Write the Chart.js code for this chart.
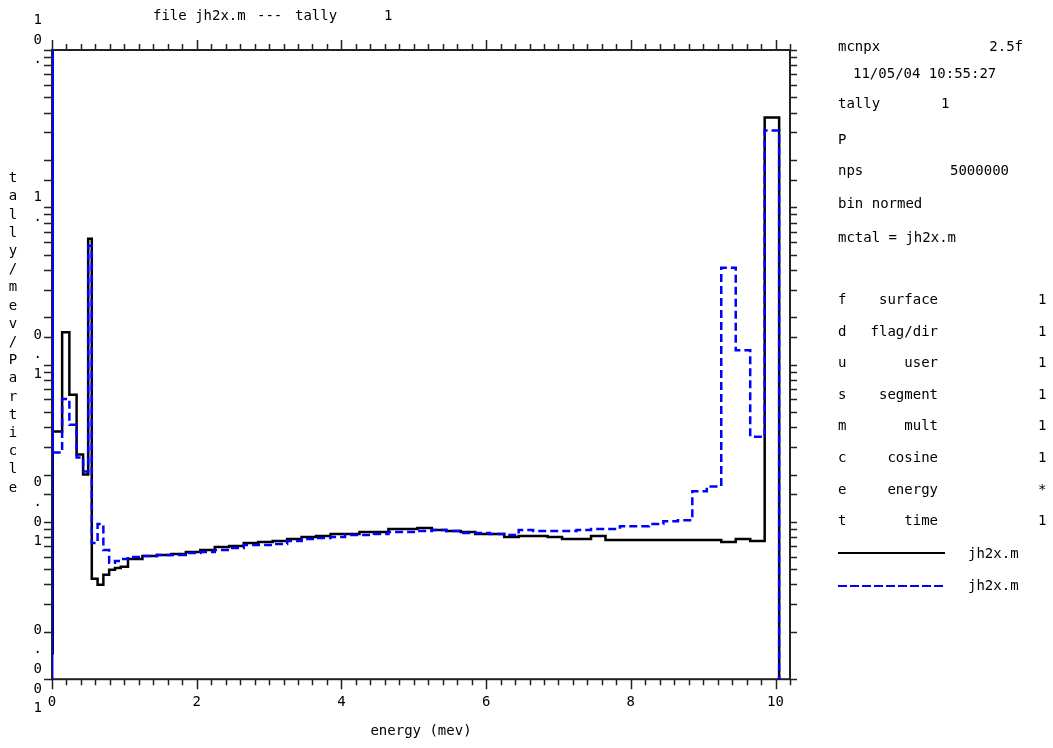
<!DOCTYPE html>
<html>
<head>
<meta charset="utf-8">
<script src="https://cdn.jsdelivr.net/npm/chart.js@4.4.0/dist/chart.umd.min.js"></script>
<style>
  body { margin: 0; background: #fff; }
  #wrap { position: relative; width: 1053px; height: 748px; font-family: "DejaVu Sans Mono", monospace; font-size: 14px; color: #000; }
  #wrap canvas { position: absolute; left: 0; top: 0; }
  .t { position: absolute; line-height: 16px; white-space: pre; }
  .line { position: absolute; left: 838px; width: 107px; height: 2px; }
</style>
</head>
<body>
<div id="wrap">
  <canvas id="canvas-tally" width="1053" height="748"></canvas>
  <div class="t" style="left:153px;top:7px">file jh2x.m</div>
  <div class="t" style="left:257px;top:7px">---</div>
  <div class="t" style="left:295px;top:7px">tally</div>
  <div class="t" style="left:384px;top:7px">1</div>

  <div class="t" style="left:838px;top:38px">mcnpx</div>
  <div class="t" style="right:30px;top:38px">2.5f</div>
  <div class="t" style="left:853px;top:65px">11/05/04 10:55:27</div>
  <div class="t" style="left:838px;top:95px">tally</div>
  <div class="t" style="left:941px;top:95px">1</div>
  <div class="t" style="left:838px;top:131px">P</div>
  <div class="t" style="left:838px;top:162px">nps</div>
  <div class="t" style="left:950px;top:162px">5000000</div>
  <div class="t" style="left:838px;top:195px">bin normed</div>
  <div class="t" style="left:838px;top:229px">mctal = jh2x.m</div>
  <div id="bins"></div>

  <div class="line" style="top:552px;background:#000"></div>
  <div class="t" style="left:968px;top:545px">jh2x.m</div>
  <div class="line" style="top:585px;background:repeating-linear-gradient(90deg,#0000ff 0 9px,transparent 9px 12px)"></div>
  <div class="t" style="left:968px;top:577px">jh2x.m</div>
</div>

<script>
// bin edges (MeV)
const binEdges = [
  0, 0.01, 0.14, 0.24, 0.34, 0.43, 0.50, 0.55, 0.63, 0.71, 0.79, 0.87, 0.95,
  1.05, 1.25, 1.45, 1.65, 1.85, 2.05, 2.25, 2.45, 2.65, 2.85, 3.05, 3.25,
  3.45, 3.65, 3.85, 4.05, 4.25, 4.45, 4.65, 4.85, 5.05, 5.25, 5.45, 5.65,
  5.85, 6.05, 6.25, 6.45, 6.65, 6.85, 7.05, 7.25, 7.45, 7.65, 7.85, 8.05,
  8.25, 8.45, 8.65, 8.85, 9.05, 9.25, 9.45, 9.65, 9.85, 10.05
];

// tally/mev/particle, one value per bin
const tallyBlack = [
  0.00146, 0.0375, 0.1605, 0.0642, 0.0268, 0.0200, 0.630, 0.00435, 0.00398,
  0.00461, 0.00496, 0.00510, 0.00518,
  0.00582, 0.00608, 0.00617, 0.00626, 0.00644, 0.00663, 0.00693, 0.00703,
  0.00734, 0.00745, 0.00756, 0.00778, 0.00801, 0.00813, 0.00837, 0.00837,
  0.00862, 0.00862, 0.00900, 0.00900, 0.00913, 0.00887, 0.00874, 0.00862,
  0.00837, 0.00837, 0.00801, 0.00813, 0.00813, 0.00801, 0.00778, 0.00778,
  0.00813, 0.00767, 0.00767, 0.00767, 0.00767, 0.00767, 0.00767, 0.00767,
  0.00767, 0.00745, 0.00778, 0.00756, 3.72
];

const tallyBlue = [
  100, 0.0276, 0.0605, 0.0415, 0.0257, 0.0209, 0.569, 0.00734, 0.00968,
  0.00663, 0.00549, 0.00565, 0.00582,
  0.00599, 0.00608, 0.00617, 0.00617, 0.00635, 0.00644, 0.00663, 0.00683,
  0.00713, 0.00713, 0.00724, 0.00756, 0.00778, 0.00790, 0.00801, 0.00825,
  0.00825, 0.00837, 0.00862, 0.00862, 0.00874, 0.00887, 0.00874, 0.00849,
  0.00849, 0.00837, 0.00825, 0.00887, 0.00874, 0.00874, 0.00874, 0.00887,
  0.00900, 0.00900, 0.00940, 0.00940, 0.00968, 0.01011, 0.01026, 0.01564,
  0.01682, 0.413, 0.1235, 0.0348, 3.08
];

const xTickLabels = [0, 2, 4, 6, 8, 10];
const yDecades = [0.001, 0.01, 0.1, 1, 10];
const yDecadeLabels = [
  ["0", ".", "0", "0", "1", ""],
  ["0", ".", "0", "1", ""],
  ["0", ".", "1", ""],
  ["1", "."],
  ["1", "0", ".", ""]
];
const yTitle = "tally/mev/Particle";

const binRows = [
  ["f", "surface", "1"],
  ["d", "flag/dir", "1"],
  ["u", "user", "1"],
  ["s", "segment", "1"],
  ["m", "mult", "1"],
  ["c", "cosine", "1"],
  ["e", "energy", "*"],
  ["t", "time", "1"]
];

const FLOOR = 1e-6;
const FONT = '"DejaVu Sans Mono", monospace';

document.addEventListener("DOMContentLoaded", function () {
  fillBinRows();
  createGraficoTally();
});

function fillBinRows() {
  const box = document.getElementById("bins");
  binRows.forEach((row, i) => {
    const top = Math.round(291 + i * 31.6);
    box.insertAdjacentHTML("beforeend",
      `<div class="t" style="left:838px;top:${top}px">${row[0]}</div>` +
      `<div class="t" style="right:${1053 - 938}px;top:${top}px">${row[1]}</div>` +
      `<div class="t" style="left:1038px;top:${top}px">${row[2]}</div>`);
  });
}

function histPoints(vals) {
  const pts = [{ x: binEdges[0], y: FLOOR }];
  vals.forEach((v, i) => pts.push({ x: binEdges[i], y: v }));
  const last = binEdges[binEdges.length - 1];
  pts.push({ x: last, y: vals[vals.length - 1] });
  pts.push({ x: last, y: FLOOR });
  return pts;
}

function isEven(v) {
  return xTickLabels.some((t) => Math.abs(v - t) < 1e-6);
}

const frameTicks = {
  id: "frameTicks",
  beforeDatasetsDraw(chart) {
    const { ctx, chartArea: a, scales } = chart;
    const x = scales.x, y = scales.y;
    ctx.save();
    ctx.strokeStyle = "#222";
    ctx.lineWidth = 2;
    ctx.strokeRect(a.left, a.top, a.right - a.left, a.bottom - a.top);
    ctx.lineWidth = 1.5;
    ctx.beginPath();
    x.ticks.forEach((t) => {
      const px = Math.round(x.getPixelForValue(t.value)) + 0.5;
      const len = isEven(t.value) ? 10 : 6;
      ctx.moveTo(px, a.bottom);
      ctx.lineTo(px, a.bottom + len);
      ctx.moveTo(px, a.top);
      ctx.lineTo(px, a.top - len);
    });
    y.ticks.forEach((t) => {
      const py = Math.round(y.getPixelForValue(t.value)) + 0.5;
      ctx.moveTo(a.left, py);
      ctx.lineTo(a.left - 8, py);
      ctx.moveTo(a.right, py);
      ctx.lineTo(a.right + 7, py);
    });
    ctx.stroke();

    ctx.fillStyle = "#000";
    ctx.font = "14px " + FONT;
    ctx.textAlign = "center";
    ctx.textBaseline = "middle";
    yTitle.split("").forEach((ch, i) => {
      ctx.fillText(ch, 13, 178.6 + i * 18.2);
    });
    ctx.restore();
  }
};

function createGraficoTally() {
  const data = {
    datasets: [
      {
        label: "jh2x.m",
        data: histPoints(tallyBlack),
        borderColor: "#000000",
        borderWidth: 2.5,
        stepped: true,
        pointRadius: 0,
        fill: false,
        order: 1
      },
      {
        label: "jh2x.m",
        data: histPoints(tallyBlue),
        borderColor: "#0000ff",
        borderWidth: 2.5,
        borderDash: [8, 4],
        segment: {
          borderDash: (c) => (c.p0DataIndex < 2 ? [] : undefined)
        },
        stepped: true,
        pointRadius: 0,
        fill: false,
        order: 0
      }
    ]
  };

  const config = {
    type: "line",
    data: data,
    options: {
      responsive: false,
      animation: false,
      layout: { padding: { top: 50, right: 263, left: 0, bottom: 0 } },
      plugins: {
        legend: { display: false },
        tooltip: { enabled: false },
        title: { display: false }
      },
      scales: {
        x: {
          type: "linear",
          min: 0,
          max: 10.2,
          grid: { display: false, drawTicks: false },
          border: { display: false },
          afterFit: (s) => { s.height = 64; },
          ticks: {
            stepSize: 0.2,
            autoSkip: false,
            maxRotation: 0,
            padding: 15,
            color: "#000",
            font: { family: FONT, size: 14 },
            callback: (v) => (isEven(v) ? String(Math.round(v)) : "")
          },
          title: {
            display: true,
            text: "energy (mev)",
            color: "#000",
            font: { family: FONT, size: 14 },
            padding: { top: 0, bottom: 3 }
          }
        },
        y: {
          type: "logarithmic",
          min: 0.001,
          max: 10,
          grid: { display: false, drawTicks: false },
          border: { display: false },
          afterFit: (s) => { s.width = 52; },
          ticks: {
            autoSkip: false,
            padding: 10,
            color: "#000",
            font: { family: FONT, size: 14, lineHeight: 1.4 },
            callback: (v) => {
              const i = yDecades.findIndex((d) => Math.abs(v / d - 1) < 1e-6);
              return i >= 0 ? yDecadeLabels[i] : "";
            }
          }
        }
      }
    },
    plugins: [frameTicks]
  };

  new Chart(document.getElementById("canvas-tally"), config);
}
</script>
</body>
</html>
